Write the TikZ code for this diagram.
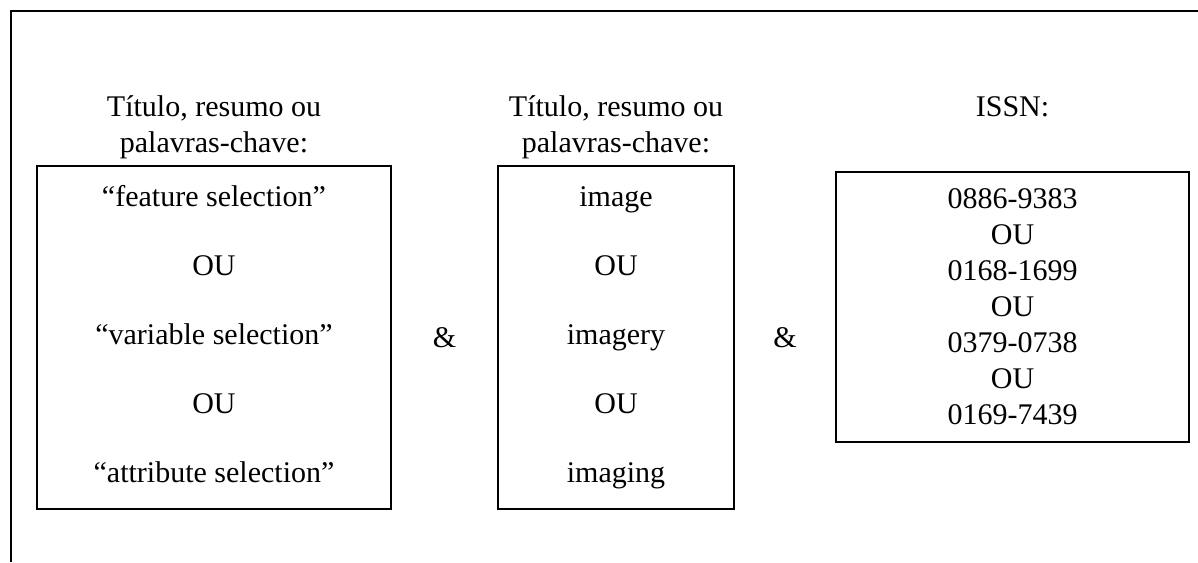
\documentclass[tikz,border=0pt]{standalone}
\usepackage{fontspec}
\setmainfont{Liberation Serif}
\usetikzlibrary{positioning, calc}

\begin{document}
\begin{tikzpicture}[
    x=0.5pt, y=-0.5pt,
    node distance=3pt,
    txt/.style={font=\fontsize{15}{18}\selectfont},
    box/.style={
        draw, txt, line width=0.9pt, inner sep=0pt, align=center
    },
    head/.style={
        txt, inner sep=0pt, align=center
    },
    amp/.style={txt},
    frame/.style={line width=1pt},
]
\useasboundingbox (0,0) rectangle (1198,562);

% ── Outer frame (only top and left edges show) ──
\coordinate (frameTL) at (11,11);
\coordinate (frameTR) at (1198,11);
\coordinate (frameBL) at (11,562);
\draw[frame] (frameBL) -- (frameTL) -- (frameTR);

% ── Boxes ──
\node[box, minimum width=177pt, minimum height=171.5pt] (terms) at (214,337.5)
    {\strut“feature selection”\\[16.5pt]
     OU\\[16.5pt]
     “variable selection”\\[16.5pt]
     OU\\[16.5pt]
     \strut“attribute selection”};

\node[box, minimum width=118pt, minimum height=171.5pt] (image) at (616,337.5)
    {\strut image\\[16.5pt]
     OU\\[16.5pt]
     imagery\\[16.5pt]
     OU\\[16.5pt]
     \strut imaging};

\node[box, minimum width=176.5pt, minimum height=135pt] (issn) at (1012.5,307)
    {0886-9383\\
     OU\\
     0168-1699\\
     OU\\
     0379-0738\\
     OU\\
     0169-7439};

% ── Headers ──
\node[head, above=3pt of terms] (termsHead) {Título, resumo ou\\palavras-chave:};
\node[head, above=3pt of image] (imageHead) {Título, resumo ou\\palavras-chave:};
\node[head, above=27pt of issn]  (issnHead)  {ISSN:};

% ── Operators between boxes ──
\coordinate (gap1) at ($(terms.east)!0.5!(image.west)$);
\coordinate (gap2) at ($(image.east)!0.5!(issn.west)$);
\node[amp] (amp1) at (gap1) {\&};
\node[amp] (amp2) at (gap2 |- amp1) {\&};

\end{tikzpicture}
\end{document}
